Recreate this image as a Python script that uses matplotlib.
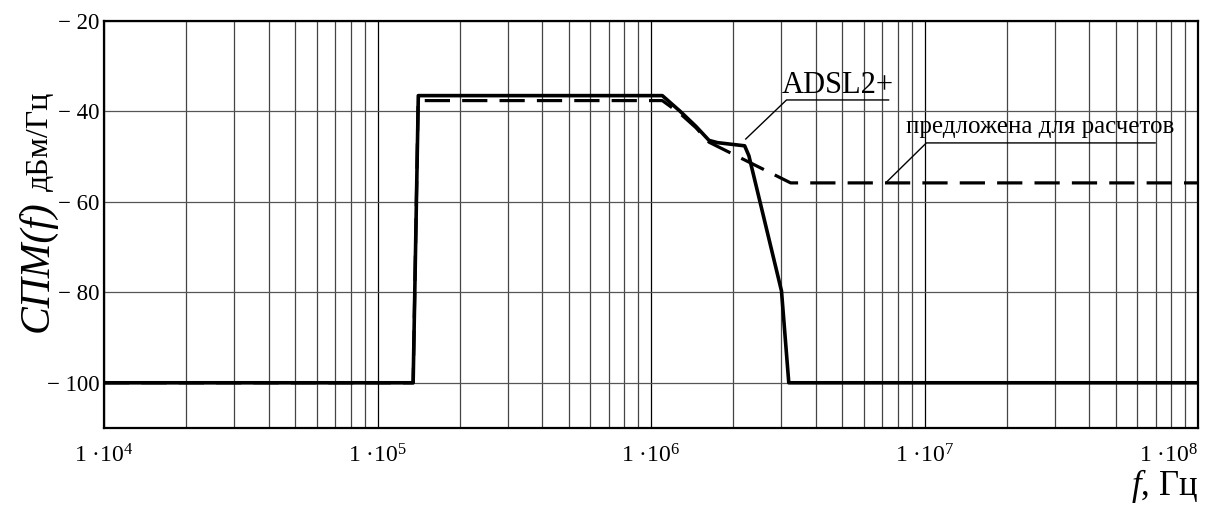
import matplotlib
matplotlib.use('Agg')
import matplotlib.pyplot as plt
import numpy as np
from matplotlib.ticker import FixedLocator, FuncFormatter, LogLocator, NullFormatter

plt.rcParams['font.family'] = ['Liberation Serif', 'DejaVu Serif']
plt.rcParams['mathtext.fontset'] = 'custom'
plt.rcParams['mathtext.rm'] = 'Liberation Serif'
plt.rcParams['mathtext.it'] = 'Liberation Serif:italic'
plt.rcParams['mathtext.bf'] = 'Liberation Serif:bold'

# ---- data (frequency in Hz, PSD in dBm/Hz) ----
adsl_f = [1e4, 1.35e5, 1.41e5, 1.10e6, 1.28e6, 1.46e6, 1.63e6, 1.75e6,
          2.20e6, 2.28e6, 3.00e6, 3.19e6, 1e8]
adsl_db = [-100, -100, -36.5, -36.5, -40.0, -43.3, -46.4, -46.9,
           -47.6, -49.8, -79.7, -100, -100]

prop_f = [1e4, 1.35e5, 1.408e5, 1.10e6, 1.28e6, 1.46e6, 1.63e6, 3.24e6, 1e8]
prop_db = [-100, -100, -37.6, -37.6, -40.5, -43.6, -46.8, -55.8, -55.8]

x_ticks = [1e4, 1e5, 1e6, 1e7, 1e8]
x_exps = [4, 5, 6, 7, 8]
y_ticks = [-100, -80, -60, -40, -20]

label_adsl = "ADSL2+"
label_prop = "предложена для расчетов"

W, H = 1206, 507
fig = plt.figure(figsize=(W / 100, H / 100), dpi=100)
ax = fig.add_axes([104 / W, 1 - 428 / H, (1198 - 104) / W, (428 - 21) / H])
ax.set_xscale('log')
ax.set_xlim(1e4, 1e8)
ax.set_ylim(-110, -20)
ax.set_axisbelow(True)

ax.plot(prop_f, prop_db, color='black', lw=2.3, ls=(0, (7.9, 3.8)),
        solid_capstyle='butt', zorder=3)
ax.plot(adsl_f, adsl_db, color='black', lw=2.6, zorder=4)

# grid
ax.xaxis.set_minor_locator(LogLocator(base=10, subs=np.arange(2, 10), numticks=20))
ax.xaxis.set_minor_formatter(NullFormatter())
ax.set_xticks(x_ticks, ["1 ·10$^{%d}$" % e for e in x_exps])
ax.get_xticklabels()[-1].set_horizontalalignment('right')
ax.yaxis.set_major_locator(FixedLocator(y_ticks))
ax.yaxis.set_major_formatter(FuncFormatter(lambda v, p: "\u2212 %d" % abs(v)))
ax.grid(which='major', axis='x', color='black', lw=0.9)
ax.grid(which='minor', axis='x', color='#444444', lw=0.9)
ax.grid(which='major', axis='y', color='#555555', lw=0.9)
ax.tick_params(which='both', length=0)
ax.tick_params(axis='y', labelsize=16.5, pad=3)
ax.tick_params(axis='x', labelsize=17, pad=12)
for s in ax.spines.values():
    s.set_linewidth(1.6)
    s.set_color('black')

# annotations
ax.plot([2.22e6, 3.13e6, 7.39e6], [-46.1, -37.46, -37.46], color='black', lw=1.0, zorder=5)
ax.text(3.0e6, -35.9, label_adsl, fontsize=22, ha='left', va='baseline')
ax.plot([7.27e6, 1.016e7, 6.97e7], [-55.6, -46.96, -46.96], color='black', lw=1.0, zorder=5)
ax.text(8.59e6, -44.75, label_prop, fontsize=18, ha='left', va='baseline')

# axis labels
fig.text(48 / W, 1 - 266 / H, "СПМ(f)", rotation=90, rotation_mode='anchor',
         ha='center', va='baseline', fontsize=30, style='italic')
fig.text(48 / W, 1 - 141 / H, "дБм/Гц", rotation=90, rotation_mode='anchor',
         ha='center', va='baseline', fontsize=23)
fig.text(1198 / W, 1 - 495 / H, "$f$, Гц", ha='right', va='baseline', fontsize=25)

fig.savefig('out.png', dpi=100)
